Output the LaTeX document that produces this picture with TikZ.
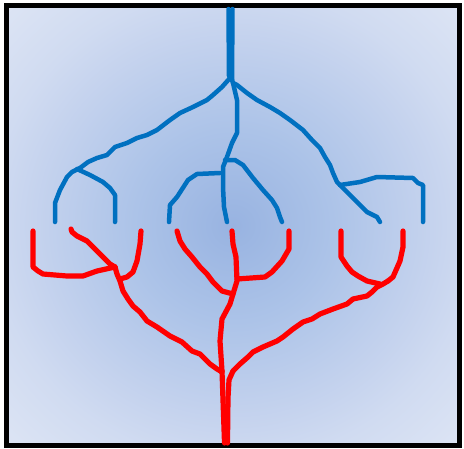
\documentclass[tikz,border=0pt]{standalone}
\pgfdeclareradialshading{bgglow}{\pgfpoint{0bp}{0bp}}{%
  rgb(0bp)=(0.596,0.702,0.882);
  rgb(11bp)=(0.675,0.765,0.910);
  rgb(22bp)=(0.773,0.827,0.933);
  rgb(27bp)=(0.816,0.859,0.945);
  rgb(35bp)=(0.863,0.894,0.957);
  rgb(50bp)=(0.863,0.894,0.957)}
\begin{document}
\begin{tikzpicture}[x=1pt,y=-1pt,
  bl/.style={draw={rgb,255:red,0;green,112;blue,192},line width=4.5pt,line join=round,line cap=round},
  rd/.style={draw={rgb,255:red,255;green,0;blue,0},line width=5.2pt,line join=round,line cap=round}]
\useasboundingbox (0,0) rectangle (464,448);
\fill[white] (0,0) rectangle (464,448);
\shade[shading=bgglow] (6.5,5.5) rectangle (459.5,445.5);
\draw[line width=5pt] (6.5,5.5) rectangle (459.5,445.5);
% blue tree
\draw[bl] (228.5,9) -- (229,76);
\draw[bl] (232.5,9) -- (232,80);
\draw[bl] (230,78) -- (222,87) -- (213,95) -- (207,100) -- (193,107) -- (180,113) -- (170,120) -- (157,130) -- (147,135) -- (137,138) -- (127,143) -- (115,147) -- (107,155) -- (97,158) -- (88,162) -- (80,168) -- (72,172) -- (67,177) -- (60,190) -- (55,203) -- (55,222);
\draw[bl] (77,169) -- (90,175) -- (103,182) -- (110,188) -- (115,195) -- (115,222);
\draw[bl] (232,80) -- (233,83) -- (237,100) -- (237,120) -- (237,133) -- (232,143) -- (227,157) -- (223,167) -- (223,187) -- (224,207) -- (227,222);
\draw[bl] (225,160) -- (235,160) -- (243,165) -- (253,178) -- (263,190) -- (272,200) -- (277,208) -- (280,217) -- (282,222);
\draw[bl] (220,173) -- (197,174) -- (188,180) -- (177,197) -- (170,205) -- (169,222);
\draw[bl] (233,83) -- (237,85) -- (247,93) -- (257,100) -- (270,107) -- (280,113) -- (290,120) -- (303,130) -- (312,140) -- (320,148) -- (325,157) -- (330,165) -- (333,173) -- (337,182) -- (340,185);
\draw[bl] (340,185) -- (360,182) -- (377,177) -- (413,178) -- (418,183) -- (423,185) -- (423,222);
\draw[bl] (340,185) -- (347,192) -- (357,202) -- (367,212) -- (377,217) -- (380,222);
% red tree
\draw[rd] (222,371) -- (223,400) -- (224.5,443);
\draw[rd] (233,371) -- (229,380) -- (228,398) -- (227.5,443);
\draw[rd] (222,371) -- (220,341) -- (222,319) -- (230,304) -- (233,294) -- (237,281) -- (236,257) -- (233,244) -- (232,231);
\draw[rd] (233,294) -- (222,291) -- (213,282) -- (207,274) -- (200,267) -- (192,257) -- (185,249) -- (180,241) -- (177,231);
\draw[rd] (237,279) -- (265,277) -- (272,272) -- (282,261) -- (289,249) -- (289,231);
\draw[rd] (222,372) -- (217,369) -- (210,364) -- (200,354) -- (192,351) -- (182,342) -- (170,336) -- (157,327) -- (147,321) -- (140,312) -- (133,306) -- (128,299) -- (123,291) -- (120,281) -- (117,274) -- (115,267);
\draw[rd] (115,267) -- (97,271) -- (83,276) -- (67,276) -- (43,274) -- (38,271) -- (33,267) -- (33,231);
\draw[rd] (115,267) -- (110,264) -- (107,261) -- (97,251) -- (87,241) -- (77,236) -- (72,232) -- (71,229);
\draw[rd] (120,279) -- (127,277) -- (133,272) -- (137,261) -- (140,244) -- (141,231);
\draw[rd] (233,371) -- (240,364) -- (248,357) -- (253,352) -- (263,347) -- (277,341) -- (283,337) -- (293,329) -- (303,322) -- (312,319) -- (320,314) -- (333,309) -- (347,304) -- (353,299) -- (367,296) -- (372,292) -- (377,287) -- (383,284) -- (388,281);
\draw[rd] (388,281) -- (393,277) -- (400,261) -- (403,247) -- (403,231);
\draw[rd] (380,284) -- (367,281) -- (358,276) -- (352,272) -- (347,266) -- (341,257) -- (341,231);
\end{tikzpicture}
\end{document}
